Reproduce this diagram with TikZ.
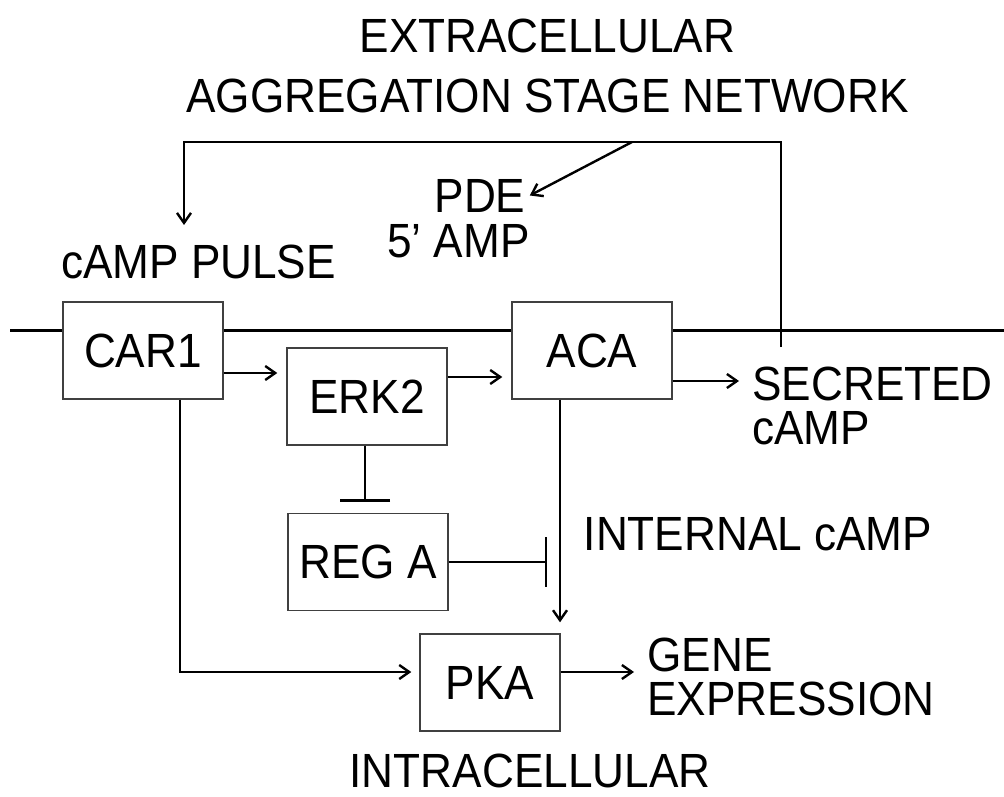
\documentclass[tikz,border=0pt]{standalone}
\usepackage{fontspec}
\setmainfont[FakeStretch=0.92]{Liberation Sans}
\usetikzlibrary{arrows.meta,calc}

\begin{document}
\begin{tikzpicture}[x=.5pt,y=-.5pt,
    boxstyle/.style={draw=black!75,line width=.7pt,fill=white,minimum width=80pt,minimum height=48.5pt,font=\fontsize{24}{30}\selectfont},
    textstyle/.style={inner sep=2pt,font=\fontsize{24}{22}\selectfont},
    linkstyle/.style={line width=1.2pt,-{Straight Barb[length=5pt,width=7pt]}},
    blockstyle/.style={line width=1.2pt,-{Bar[width=25pt]}}]
    \useasboundingbox (0,0) rectangle (1004,796);
    % membrane
    \draw[line width=1.5pt] (10,330)--(1004,330);
    \node[boxstyle] (CAR1) at (143,350.5) {CAR1};
    \node[boxstyle] (ERK2) at (367,396.5) {ERK2};
    \node[boxstyle] (ACA) at (592,350.5) {ACA};
    \node[boxstyle] (REGA) at (368,562) {REG A};
    \node[boxstyle,minimum width=70pt] (PKA) at (490,682.5) {PKA};
    \node[textstyle,align=center,font=\fontsize{24}{30}\selectfont] (title) at (547.5,65.5) {EXTRACELLULAR\\AGGREGATION STAGE NETWORK};
    \node[textstyle] (pulse) at (198.5,261.5) {cAMP PULSE};
    \node[textstyle] (pde) at (480,195.5) {PDE};
    \node[textstyle] (amp) at (458.5,241.5) {5’ AMP};
    \node[textstyle,align=left,anchor=west] (sec) at (748,406) {SECRETED\\cAMP};
    \node[textstyle] (internal) at (758,534.5) {INTERNAL cAMP};
    \node[textstyle,align=left,anchor=west] (gene) at (643,677) {GENE\\EXPRESSION};
    \node[textstyle] (intra) at (530,771) {INTRACELLULAR};
    % feedback loop
    \coordinate (relfoot) at (781,347);
    \coordinate (feedtop) at (781,142);
    \coordinate (pdefork) at (632,142);
    \coordinate (pulsetip) at (184,225);
    \draw[linkstyle] (relfoot)--(feedtop)-|(pulsetip);
    \draw[linkstyle] (pdefork)--(pde.east);
    % signalling
    \draw[linkstyle,shorten >=4.5pt] (CAR1.east |- 0,373)--(ERK2.west |- 0,373);
    \draw[linkstyle,shorten >=4.5pt] (ERK2.east |- 0,377)--(ACA.west |- 0,377);
    \draw[linkstyle,shorten >=4.5pt] (ACA.east |- 0,381)--(sec.west |- 0,381);
    \draw[linkstyle,shorten >=5.5pt] (ACA.south -| 560,0)--(PKA.north -| 560,0);
    \draw[linkstyle,shorten >=4pt] (CAR1.south -| 180,0)|-(PKA.west |- 0,672);
    \draw[linkstyle,shorten >=4.5pt] (PKA.east |- 0,672)--(gene.west |- 0,672);
    \draw[blockstyle,shorten >=5.5pt] (ERK2.south -| 365,0)--(REGA.north -| 365,0);
    \draw[blockstyle,shorten >=6.5pt] (REGA.east)--(REGA.east -| 560,0);
\end{tikzpicture}
\end{document}
